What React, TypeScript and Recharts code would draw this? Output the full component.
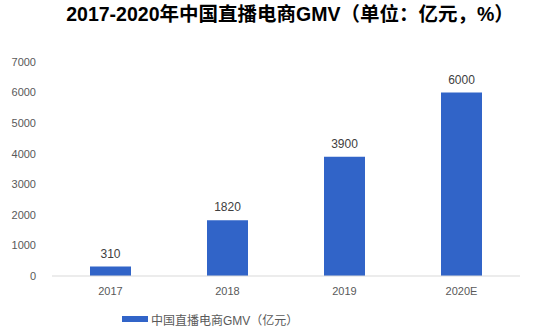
import { BarChart, Bar, XAxis, YAxis, Legend, LabelList } from 'recharts';

const years = ['2017', '2018', '2019', '2020E'];
const gmv = [310, 1820, 3900, 6000];
const yTicks = [0, 1000, 2000, 3000, 4000, 5000, 6000, 7000];

const seriesName = '中国直播电商GMV（亿元）';
const barColor = '#3164c8';
const fontStack = '"Liberation Sans", Arial, "Noto Sans CJK SC", sans-serif';

const data = years.map((year, i) => ({ year, gmv: gmv[i] }));

function LegendContent() {
  return (
    <div style={{ display: 'flex', alignItems: 'center', paddingLeft: 122, height: 20 }}>
      <span style={{ display: 'inline-block', width: 26, height: 6, background: barColor, marginRight: 3 }} />
      <span style={{ fontSize: 12, color: '#595959', fontFamily: fontStack }}>{seriesName}</span>
    </div>
  );
}

export default function App() {
  return (
    <div style={{ position: 'absolute', left: 0, top: 0, width: 557, height: 331, background: '#fff', fontFamily: fontStack }}>
      <div
        style={{
          position: 'absolute', left: 0, top: 0, width: 557, paddingLeft: 23, boxSizing: 'border-box',
          textAlign: 'center', fontSize: 19.5, lineHeight: '28px', fontWeight: 'bold', color: '#000',
        }}
      >
        2017-2020年中国直播电商GMV（单位：亿元，%）
      </div>
      <BarChart width={557} height={331} data={data} margin={{ top: 62, right: 37, left: 0, bottom: 2 }}>
        <XAxis
          dataKey="year"
          axisLine={{ stroke: '#d9d9d9' }}
          tickLine={false}
          tickMargin={5}
          height={33}
          tick={{ fill: '#595959', fontSize: 11 }}
        />
        <YAxis
          domain={[0, 7000]}
          ticks={yTicks}
          axisLine={false}
          tickLine={false}
          tickMargin={10}
          width={52}
          tick={{ fill: '#595959', fontSize: 11 }}
        />
        <Legend verticalAlign="bottom" height={20} content={<LegendContent />} />
        <Bar dataKey="gmv" name={seriesName} fill={barColor} barSize={41} isAnimationActive={false}>
          <LabelList dataKey="gmv" position="top" offset={9} style={{ fill: '#404040', fontSize: 12 }} />
        </Bar>
      </BarChart>
    </div>
  );
}
